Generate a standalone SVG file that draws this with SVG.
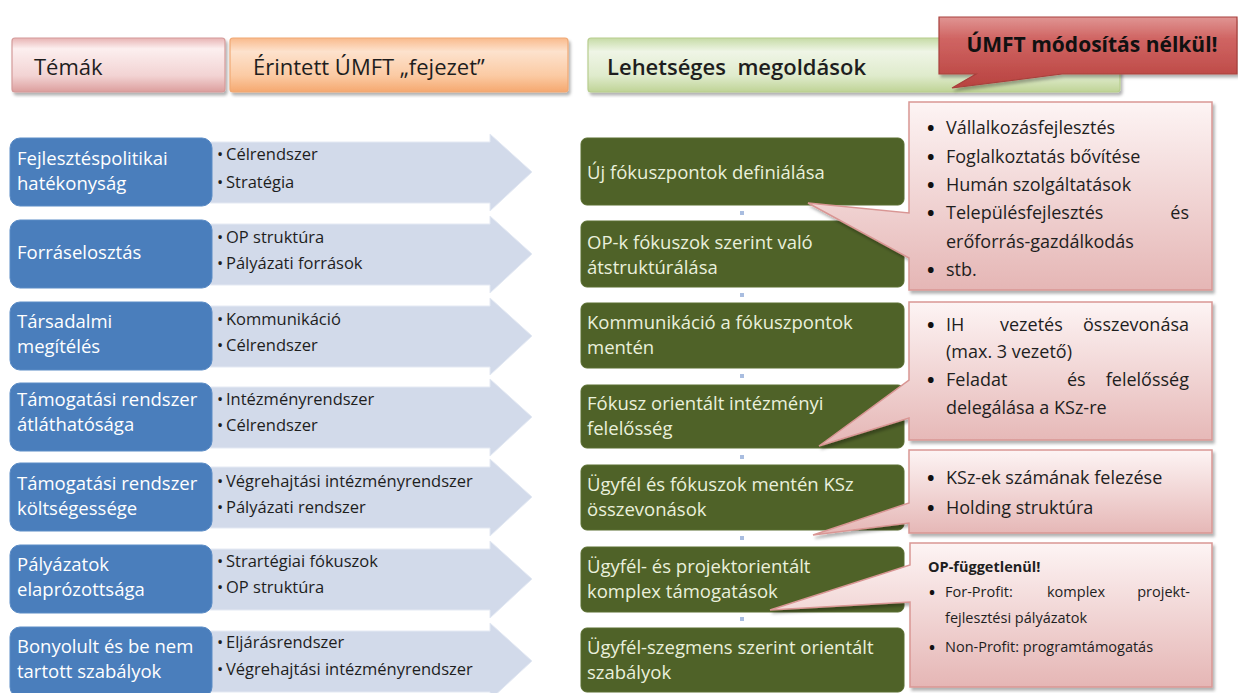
<svg xmlns="http://www.w3.org/2000/svg" width="1238" height="693" viewBox="0 0 1238 693">
<defs>
<style>
text{font-family:"Open Sans","Liberation Sans",sans-serif;}
.hdr{font-size:22px;fill:#1e1e1e;}
.blue{fill:#4a7ebc;stroke:#5b8cc6;stroke-width:1;}
.btxt{font-size:18.5px;fill:#ffffff;}
.arrow{fill:#d2daea;stroke:#e4e9f3;stroke-width:1;}
.atxt{font-size:16.5px;fill:#1e1e1e;}
.green{fill:#4f6228;stroke:#5a6e30;stroke-width:1;}
.gtxt{font-size:18.5px;fill:#eaf0dc;}
.call{fill:url(#gCall);stroke:#d99694;stroke-width:1.5;filter:url(#sh);}
.ctxt{font-size:18px;fill:#1e1e1e;}
.ctxt2{font-size:14.5px;fill:#1e1e1e;}
.bul{font-size:20px;fill:#111;font-weight:700;}
.bul2{font-size:16px;fill:#111;font-weight:700;}
.dot{fill:#a9bde0;}
</style>
<linearGradient id="gPink" x1="0" y1="0" x2="0" y2="1">
<stop offset="0" stop-color="#e8b4b4"/><stop offset="0.2" stop-color="#fcefef"/><stop offset="0.7" stop-color="#f2d3d3"/><stop offset="1" stop-color="#dc9e9d"/>
</linearGradient>
<linearGradient id="gOrange" x1="0" y1="0" x2="0" y2="1">
<stop offset="0" stop-color="#f9ba8c"/><stop offset="0.25" stop-color="#fde2cd"/><stop offset="0.7" stop-color="#fbcaa3"/><stop offset="1" stop-color="#f5a86f"/>
</linearGradient>
<linearGradient id="gGreen" x1="0" y1="0" x2="0" y2="1">
<stop offset="0" stop-color="#c6dba6"/><stop offset="0.25" stop-color="#eff5e6"/><stop offset="0.7" stop-color="#dfebcc"/><stop offset="1" stop-color="#bfd396"/>
</linearGradient>
<linearGradient id="gRed" x1="0" y1="0" x2="0" y2="1">
<stop offset="0" stop-color="#e09593"/><stop offset="0.3" stop-color="#d06563"/><stop offset="1" stop-color="#b8423f"/>
</linearGradient>
<linearGradient id="gCall" x1="0" y1="0" x2="0" y2="1">
<stop offset="0" stop-color="#fdf4f4"/><stop offset="1" stop-color="#e5b6b5"/>
</linearGradient>
<filter id="sh" x="-5%" y="-5%" width="112%" height="115%">
<feDropShadow dx="2" dy="3" stdDeviation="1.5" flood-color="#000" flood-opacity="0.3"/>
</filter>
</defs>
<rect width="1238" height="693" fill="#ffffff"/>

<!-- Header row -->
<g id="hdr-temak">
<rect x="12" y="38" width="213" height="54" rx="3" fill="url(#gPink)" stroke="#d49a99" stroke-width="1.2" filter="url(#sh)"/>
<text class="hdr" x="34" y="75">Témák</text>
</g>
<g id="hdr-erintett">
<rect x="230" y="38" width="338" height="54" rx="3" fill="url(#gOrange)" stroke="#f0a874" stroke-width="1.2" filter="url(#sh)"/>
<text class="hdr" x="253" y="75">Érintett ÚMFT „fejezet”</text>
</g>
<g id="hdr-megoldasok">
<rect x="588" y="38" width="532" height="54" rx="3" fill="url(#gGreen)" stroke="#b7cd8e" stroke-width="1.2" filter="url(#sh)"/>
<text class="hdr" x="607" y="75" font-weight="600" xml:space="preserve">Lehetséges  megoldások</text>
</g>
<g id="hdr-umft">
<path d="M939,17 H1237 V74 H1062 L952,88 L976,74 H939 Z" fill="url(#gRed)" stroke="#a8403d" stroke-width="1.2" filter="url(#sh)"/>
<text x="1092" y="52" text-anchor="middle" font-size="21" font-weight="700" fill="#111">ÚMFT módosítás nélkül!</text>
</g>

<!-- Topic rows -->
<g id="topic-1">
<path class="arrow" d="M200,142 H490 V134 L532,172 L490,211 V203 H200 Z"/>
<rect class="blue" x="10" y="138" width="202" height="68" rx="10"/>
<text class="btxt" x="17" y="165">Fejlesztéspolitikai</text>
<text class="btxt" x="17" y="190">hatékonyság</text>
<text class="atxt" x="217" y="160">•</text><text class="atxt" x="226" y="160">Célrendszer</text>
<text class="atxt" x="217" y="188">•</text><text class="atxt" x="226" y="188">Stratégia</text>
</g>
<g id="topic-2">
<path class="arrow" d="M200,224 H490 V216 L532,254 L490,293 V285 H200 Z"/>
<rect class="blue" x="10" y="220" width="202" height="68" rx="10"/>
<text class="btxt" x="17" y="259">Forráselosztás</text>
<text class="atxt" x="217" y="243">•</text><text class="atxt" x="226" y="243">OP struktúra</text>
<text class="atxt" x="217" y="269">•</text><text class="atxt" x="226" y="269">Pályázati források</text>
</g>
<g id="topic-3">
<path class="arrow" d="M200,306 H490 V298 L532,336 L490,375 V367 H200 Z"/>
<rect class="blue" x="10" y="302" width="202" height="68" rx="10"/>
<text class="btxt" x="17" y="328">Társadalmi</text>
<text class="btxt" x="17" y="353">megítélés</text>
<text class="atxt" x="217" y="325">•</text><text class="atxt" x="226" y="325">Kommunikáció</text>
<text class="atxt" x="217" y="351">•</text><text class="atxt" x="226" y="351">Célrendszer</text>
</g>
<g id="topic-4">
<path class="arrow" d="M200,387 H490 V379 L532,417 L490,456 V448 H200 Z"/>
<rect class="blue" x="10" y="383" width="202" height="68" rx="10"/>
<text class="btxt" x="17" y="406">Támogatási rendszer</text>
<text class="btxt" x="17" y="431">átláthatósága</text>
<text class="atxt" x="217" y="405">•</text><text class="atxt" x="226" y="405">Intézményrendszer</text>
<text class="atxt" x="217" y="431">•</text><text class="atxt" x="226" y="431">Célrendszer</text>
</g>
<g id="topic-5">
<path class="arrow" d="M200,467 H490 V459 L532,497 L490,536 V528 H200 Z"/>
<rect class="blue" x="10" y="463" width="202" height="68" rx="10"/>
<text class="btxt" x="17" y="490">Támogatási rendszer</text>
<text class="btxt" x="17" y="515">költségessége</text>
<text class="atxt" x="217" y="487">•</text><text class="atxt" x="226" y="487">Végrehajtási intézményrendszer</text>
<text class="atxt" x="217" y="513">•</text><text class="atxt" x="226" y="513">Pályázati rendszer</text>
</g>
<g id="topic-6">
<path class="arrow" d="M200,549 H490 V541 L532,579 L490,618 V610 H200 Z"/>
<rect class="blue" x="10" y="545" width="202" height="68" rx="10"/>
<text class="btxt" x="17" y="571">Pályázatok</text>
<text class="btxt" x="17" y="596">elaprózottsága</text>
<text class="atxt" x="217" y="567">•</text><text class="atxt" x="226" y="567">Strartégiai fókuszok</text>
<text class="atxt" x="217" y="593">•</text><text class="atxt" x="226" y="593">OP struktúra</text>
</g>
<g id="topic-7">
<path class="arrow" d="M200,631 H490 V623 L532,661 L490,700 V692 H200 Z"/>
<rect class="blue" x="10" y="627" width="202" height="70" rx="10"/>
<text class="btxt" x="17" y="653">Bonyolult és be nem</text>
<text class="btxt" x="17" y="678">tartott szabályok</text>
<text class="atxt" x="217" y="648">•</text><text class="atxt" x="226" y="648">Eljárásrendszer</text>
<text class="atxt" x="217" y="675">•</text><text class="atxt" x="226" y="675">Végrehajtási intézményrendszer</text>
</g>

<!-- Connectors between solution boxes -->
<g id="connectors">
<rect class="dot" x="740" y="211" width="4" height="4"/>
<rect class="dot" x="740" y="293" width="4" height="4"/>
<rect class="dot" x="740" y="374" width="4" height="4"/>
<rect class="dot" x="740" y="455" width="4" height="4"/>
<rect class="dot" x="740" y="536" width="4" height="4"/>
<rect class="dot" x="740" y="617" width="4" height="4"/>
</g>

<!-- Solutions -->
<g id="sol-1">
<rect class="green" x="581" y="138" width="323" height="67" rx="6"/>
<text class="gtxt" x="587" y="179">Új fókuszpontok definiálása</text>
</g>
<g id="sol-2">
<rect class="green" x="581" y="221" width="323" height="66" rx="6"/>
<text class="gtxt" x="587" y="249">OP-k fókuszok szerint való</text>
<text class="gtxt" x="587" y="274">átstruktúrálása</text>
</g>
<g id="sol-3">
<rect class="green" x="581" y="303" width="323" height="65" rx="6"/>
<text class="gtxt" x="587" y="329">Kommunikáció a fókuszpontok</text>
<text class="gtxt" x="587" y="354">mentén</text>
</g>
<g id="sol-4">
<rect class="green" x="581" y="385" width="323" height="63" rx="6"/>
<text class="gtxt" x="587" y="410">Fókusz orientált intézményi</text>
<text class="gtxt" x="587" y="435">felelősség</text>
</g>
<g id="sol-5">
<rect class="green" x="581" y="465" width="323" height="65" rx="6"/>
<text class="gtxt" x="587" y="491">Ügyfél és fókuszok mentén KSz</text>
<text class="gtxt" x="587" y="516">összevonások</text>
</g>
<g id="sol-6">
<rect class="green" x="581" y="547" width="323" height="65" rx="6"/>
<text class="gtxt" x="587" y="573">Ügyfél- és projektorientált</text>
<text class="gtxt" x="587" y="598">komplex támogatások</text>
</g>
<g id="sol-7">
<rect class="green" x="581" y="628" width="323" height="64" rx="6"/>
<text class="gtxt" x="587" y="654">Ügyfél-szegmens szerint orientált</text>
<text class="gtxt" x="587" y="679">szabályok</text>
</g>

<!-- Callouts -->
<g id="note-1">
<path class="call" d="M909,102 H1212 V290 H909 V258 L808,203 L909,213 Z"/>
<text class="bul" x="927" y="135">•</text><text class="ctxt" x="946" y="134">Vállalkozásfejlesztés</text>
<text class="bul" x="927" y="164">•</text><text class="ctxt" x="946" y="163">Foglalkoztatás bővítése</text>
<text class="bul" x="927" y="192">•</text><text class="ctxt" x="946" y="191">Humán szolgáltatások</text>
<text class="bul" x="927" y="220">•</text><text class="ctxt" x="946" y="219">Településfejlesztés</text><text class="ctxt" x="1189" y="219" text-anchor="end">és</text>
<text class="ctxt" x="946" y="248">erőforrás-gazdálkodás</text>
<text class="bul" x="927" y="277">•</text><text class="ctxt" x="946" y="276">stb.</text>
</g>
<g id="note-2">
<path class="call" d="M909,302 H1212 V440 H909 V418 L819,446 L909,380 Z"/>
<text class="bul" x="927" y="332">•</text><text class="ctxt" x="946" y="331">IH</text><text class="ctxt" x="1000" y="331">vezetés</text><text class="ctxt" x="1189" y="331" text-anchor="end">összevonása</text>
<text class="ctxt" x="946" y="358">(max. 3 vezető)</text>
<text class="bul" x="927" y="387">•</text><text class="ctxt" x="946" y="386">Feladat</text><text class="ctxt" x="1067" y="386">és</text><text class="ctxt" x="1189" y="386" text-anchor="end">felelősség</text>
<text class="ctxt" x="946" y="414">delegálása a KSz-re</text>
</g>
<g id="note-3">
<path class="call" d="M909,450 H1212 V533 H909 V523 L813,535 L909,503 Z"/>
<text class="bul" x="927" y="485">•</text><text class="ctxt" x="946" y="484">KSz-ek számának felezése</text>
<text class="bul" x="927" y="515">•</text><text class="ctxt" x="946" y="514">Holding struktúra</text>
</g>
<g id="note-4">
<path class="call" d="M910,543 H1212 V687 H910 V602 L770,610 L910,565 Z"/>
<text class="ctxt2" x="928" y="572" font-weight="700">OP-függetlenül!</text>
<text class="bul2" x="929" y="598">•</text><text class="ctxt2" x="945" y="597">For-Profit:</text><text class="ctxt2" x="1047" y="597">komplex</text><text class="ctxt2" x="1190" y="597" text-anchor="end">projekt-</text>
<text class="ctxt2" x="945" y="623">fejlesztési pályázatok</text>
<text class="bul2" x="929" y="653">•</text><text class="ctxt2" x="945" y="652">Non-Profit: programtámogatás</text>
</g>
</svg>
